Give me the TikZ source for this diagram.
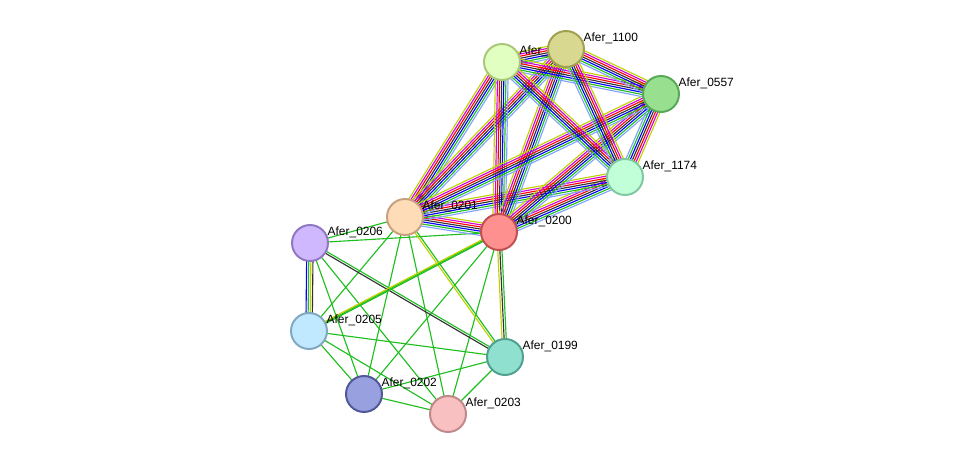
\documentclass[tikz,border=0pt]{standalone}
\usepackage{fontspec}
\setmainfont{Liberation Sans}
\usetikzlibrary{calc}
\definecolor{sred}{RGB}{255,0,0}
\definecolor{sblue}{RGB}{0,0,255}
\definecolor{sblack}{RGB}{50,50,50}
\definecolor{smag}{RGB}{210,0,210}
\definecolor{sgreen}{RGB}{30,190,30}
\definecolor{syel}{RGB}{190,210,0}
\definecolor{slblue}{RGB}{130,160,255}
\tikzset{
  prot/.style={circle, minimum size=0.9cm, line width=1.4pt, inner sep=0pt},
  lbl/.style={font=\fontsize{8.5}{10}\selectfont, anchor=south west, inner sep=1pt},
  edg/.style={line width=0.8pt}
}
% bundle of parallel lines between two points
\newcommand\bund[4]{%
  \foreach \c [count=\i] in {#4}{%
    \pgfmathsetmacro\off{(\i-(#3+1)/2)*1.5}
    \draw[edg, \c] ($(#1)!\off pt!90:(#2)$) -- ($(#2)!\off pt!-90:(#1)$);
  }}
\begin{document}
\begin{tikzpicture}[x=0.025cm, y=-0.025cm]
  \useasboundingbox (0,0) rectangle (975,460);
  % positions
  \coordinate (p0702) at (502,62);
  \coordinate (p1100) at (566,49);
  \coordinate (p0557) at (661,94);
  \coordinate (p1174) at (625,177);
  \coordinate (p0201) at (405,217);
  \coordinate (p0200) at (499,232);
  \coordinate (p0206) at (310,243);
  \coordinate (p0205) at (309,331);
  \coordinate (p0199) at (505,357);
  \coordinate (p0202) at (364,394);
  \coordinate (p0203) at (448,414);

  % green-only edges
  \foreach \a/\b in {0206/0201,0206/0200,0206/0202,0206/0203,0205/0201,0205/0200,0205/0199,
      0205/0202,0205/0203,0202/0201,0202/0200,0202/0203,0202/0199,0203/0201,0203/0200,0203/0199}
    \draw[edg, sgreen] (p\a) -- (p\b);
  \bund{p0199}{p0201}{2}{sgreen,syel}
  \bund{p0199}{p0200}{3}{sgreen,sblack,syel}
  \bund{p0206}{p0205}{4}{sblue,sgreen,syel,sblack}
  \bund{p0206}{p0199}{2}{sblack,sgreen}
  \bund{p0205}{p0200}{2}{sgreen,syel}

  % dense bundles
  \foreach \a/\b in {0201/0200,0200/1174,0201/1174,0201/0702,0201/1100,0200/0702,0200/1100,
      0200/0557,0201/0557,0702/1100,0702/0557,0702/1174,1100/0557,1100/1174,0557/1174}
    \bund{p\a}{p\b}{7}{slblue,sgreen,sblue,sblack,sred,smag,syel};

  % proteins
  \foreach \n/\f/\d in {0702/{rgb,255:red,224;green,255;blue,192}/{rgb,255:red,168;green,200;blue,120},
      1100/{rgb,255:red,216;green,216;blue,144}/{rgb,255:red,160;green,160;blue,80},
      0557/{rgb,255:red,152;green,224;blue,144}/{rgb,255:red,88;green,168;blue,88},
      1174/{rgb,255:red,192;green,255;blue,216}/{rgb,255:red,128;green,200;blue,160},
      0201/{rgb,255:red,255;green,220;blue,184}/{rgb,255:red,200;green,160;blue,128},
      0200/{rgb,255:red,255;green,144;blue,144}/{rgb,255:red,192;green,80;blue,80},
      0206/{rgb,255:red,208;green,184;blue,255}/{rgb,255:red,144;green,120;blue,192},
      0205/{rgb,255:red,192;green,232;blue,255}/{rgb,255:red,128;green,168;blue,192},
      0199/{rgb,255:red,144;green,224;blue,208}/{rgb,255:red,80;green,160;blue,144},
      0202/{rgb,255:red,152;green,160;blue,224}/{rgb,255:red,80;green,88;blue,152},
      0203/{rgb,255:red,248;green,192;blue,192}/{rgb,255:red,192;green,136;blue,136}}
  {
    \node[prot, fill=\f, draw=\d] (n\n) at (p\n) {};
    \node[lbl] at ($(p\n)+(16,-3)$) {Afer\_\n};
  }
\end{tikzpicture}
\end{document}
